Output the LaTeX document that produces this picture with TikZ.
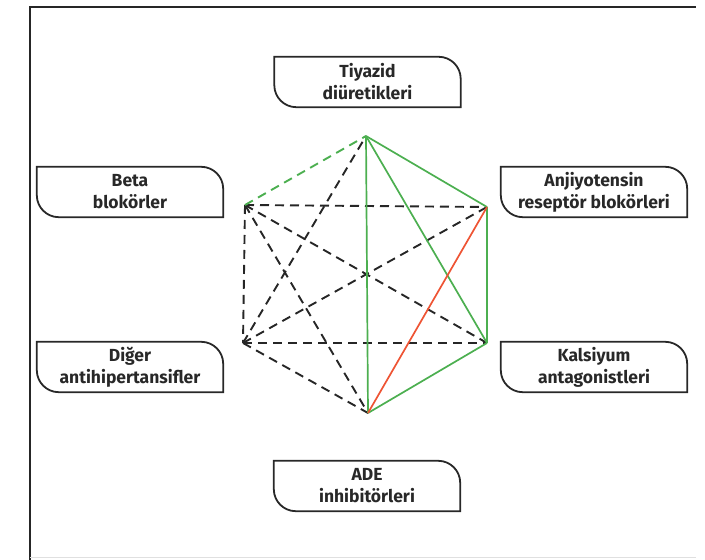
\documentclass[tikz,border=0pt]{standalone}
\usepackage{fontspec}
\setmainfont{Fira Sans}
\usetikzlibrary{positioning,calc}

\definecolor{linegreen}{RGB}{76,175,80}
\definecolor{linered}{RGB}{238,84,52}
\definecolor{boxgray}{RGB}{40,40,40}

\tikzset{
  drug/.style={minimum width=186pt, minimum height=50pt, inner sep=0pt, align=center,
    text=boxgray, font=\bfseries\fontsize{17.5}{22}\selectfont},
  boxline/.style={line width=1.8pt, draw=boxgray},
  link/.style={line width=1.9pt, dash pattern=on 9pt off 6pt, black!85},
  good/.style={line width=1.7pt, linegreen},
  bad/.style={line width=1.7pt, linered}
}

\begin{document}
\begin{tikzpicture}[x=1pt,y=1pt]
\useasboundingbox (0,0) rectangle (705,560);

% Frame
\draw[line width=2.2pt, black!85] (30,0) -- (30,553) -- (696,553);
\draw[line width=0.8pt, black!12] (30,3) -- (696,3);

% Drug classes
\node[drug] (tiyazid) at (367.5,478) {Tiyazid\\diüretikleri};
\node[drug] (beta) at (130,368) {Beta\\blokörler};
\node[drug] (anjiyo) at (594,368) {Anjiyotensin\\reseptör blokörleri};
\node[drug] (diger) at (130,193) {Diğer\\antihipertansifler};
\node[drug] (kalsiyum) at (594,193) {Kalsiyum\\antagonistleri};
\node[drug] (ade) at (367,74) {ADE\\inhibitörleri};

% Box outlines
\foreach \n in {tiyazid,beta,anjiyo,diger,kalsiyum,ade} {
  \draw[boxline] (\n.north west) -- ([xshift=-22pt]\n.north east)
    arc[start angle=90, end angle=0, radius=22pt] -- (\n.south east)
    -- ([xshift=22pt]\n.south west)
    arc[start angle=270, end angle=180, radius=22pt] -- cycle;
}

% Hexagon corners
\coordinate (vT) at (366,424);
\coordinate (vAR) at (487,353);
\coordinate (vK) at (487,217);
\coordinate (vB) at (368,147);
\coordinate (vBB) at (245,355);
\coordinate (vD) at (243,217);

% Dashed combinations
\foreach \a/\b in {vBB/vAR, vBB/vK, vBB/vB, vBB/vD, vD/vT, vD/vAR, vD/vK, vD/vB} {
  \draw[link] (\a) -- (\b);
}
\draw[link, linegreen] (vBB) -- (vT);

% Preferred combinations
\foreach \a/\b in {vT/vB, vT/vAR, vT/vK, vAR/vK, vK/vB} {
  \draw[good] (\a) -- (\b);
}
\draw[bad] (vB) -- (vAR);

\end{tikzpicture}
\end{document}
